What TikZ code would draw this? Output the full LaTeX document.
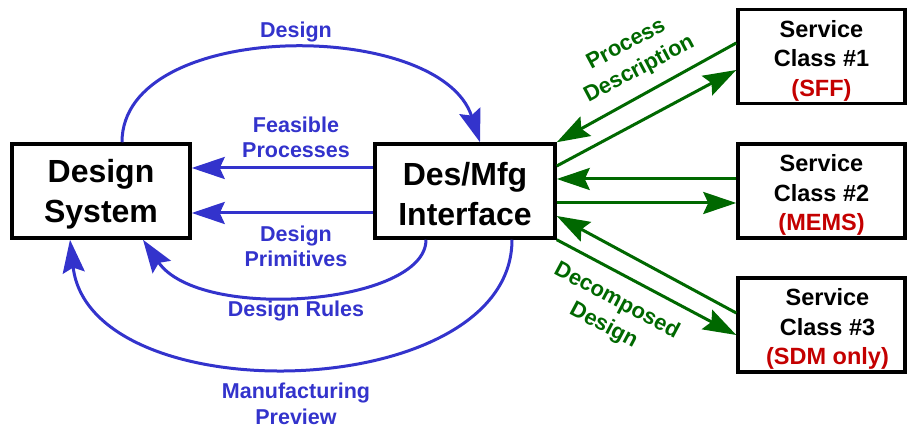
\documentclass[tikz,border=0pt]{standalone}
\usepackage{fontspec}
\setmainfont{Liberation Sans}
\usetikzlibrary{arrows.meta}

\definecolor{flowblue}{RGB}{51,51,204}
\definecolor{flowgreen}{RGB}{0,104,0}
\definecolor{techred}{RGB}{196,0,0}

\begin{document}
\begin{tikzpicture}[x=1pt,y=1pt,
	box/.style={draw,line width=3.5pt,inner sep=0pt,minimum height=94pt},
	boxtext/.style={inner sep=0pt,align=center,font=\fontsize{32}{40}\selectfont\bfseries},
	svcbox/.style={draw,line width=3.5pt,inner sep=0pt,minimum width=167pt,minimum height=94pt},
	svctext/.style={inner sep=0pt,align=center,font=\fontsize{23.5}{29.5}\selectfont\bfseries},
	bflow/.style={flowblue,line width=3pt,-{Stealth[length=33pt,width=22pt,inset=5pt]}},
	gflow/.style={flowgreen,line width=3pt,-{Stealth[length=33pt,width=22pt,inset=5pt]}},
	blabel/.style={flowblue,align=center,font=\fontsize{21.5}{25.5}\selectfont\bfseries},
	glabel/.style={flowgreen,align=center,font=\fontsize{22}{28}\selectfont\bfseries}]
			\useasboundingbox (0,0) rectangle (908,427);

			% the two design side boxes
			\node[box,minimum width=178pt] (dsys) at (101,236) {};
			\node[box,minimum width=180pt] (dmi) at (465,236) {};
			\node[boxtext] (dsyst) at ([yshift=-3pt]dsys.center) {Design\\System};
			\node[boxtext] (dmit) at ([yshift=-3pt]dmi.center) {Des/Mfg\\Interface};

			% service classes
			\node[svcbox] (sc1) at (821.5,370.5) {};
			\node[svcbox] (sc2) at (821.5,236) {};
			\node[svcbox] (sc3) at (821.5,102) {};
			\node[svctext] (sc1t) at ([yshift=-4pt]sc1.center) {Service\\Class \#1\\\textcolor{techred}{(SFF)}};
			\node[svctext] (sc2t) at ([yshift=-4pt]sc2.center) {Service\\Class \#2\\\textcolor{techred}{(MEMS)}};
			\node[svctext] (sc3t) at ([xshift=6pt,yshift=-4pt]sc3.center) {Service\\Class \#3\\\textcolor{techred}{(SDM only)}};

			% blue loop between design system and interface
			\draw[bflow] ([xshift=21pt]dsys.north) .. controls +(0,124) and +(-40,124) .. ([xshift=15pt]dmi.north);
			\draw[bflow] ([yshift=23pt]dmi.west) -- ([yshift=23pt]dsys.east);
			\draw[bflow] ([yshift=-22pt]dmi.west) -- ([yshift=-22pt]dsys.east);
			\draw[bflow] ([xshift=-39pt]dmi.south) .. controls +(0,-65) and +(57,-83) .. ([xshift=42pt]dsys.south);
			\draw[bflow] ([xshift=47pt]dmi.south) .. controls +(0,-165) and +(20,-175) .. ([xshift=-31pt]dsys.south);

			\node[blabel] (ldesign) at (296,395) {Design};
			\node[blabel] (lfeas) at (296,289.5) {Feasible\\Processes};
			\node[blabel] (lprim) at (296,180.5) {Design\\Primitives};
			\node[blabel] (lrules) at (296,116) {Design Rules};
			\node[blabel] (lmfg) at (296,23) {Manufacturing\\Preview};

			% green links to the service classes
			\draw[gflow] ([yshift=13.5pt]sc1.west) -- (dmi.north east);
			\draw[gflow] ([yshift=25pt]dmi.east) -- ([yshift=-13.5pt]sc1.west);
			\draw[gflow] ([yshift=12pt]sc2.west) -- ([yshift=12pt]dmi.east);
			\draw[gflow] ([yshift=-12pt]dmi.east) -- ([yshift=-12pt]sc2.west);
			\draw[gflow] ([yshift=12pt]sc3.west) -- ([yshift=-25pt]dmi.east);
			\draw[gflow] (dmi.south east) -- ([yshift=-10pt]sc3.west);

			\node[glabel,rotate=28] (lproc) at (633,369.5) {Process\\Description};
			\node[glabel,rotate=-28] (ldecomp) at (610,113.5) {Decomposed\\Design};
\end{tikzpicture}
\end{document}
